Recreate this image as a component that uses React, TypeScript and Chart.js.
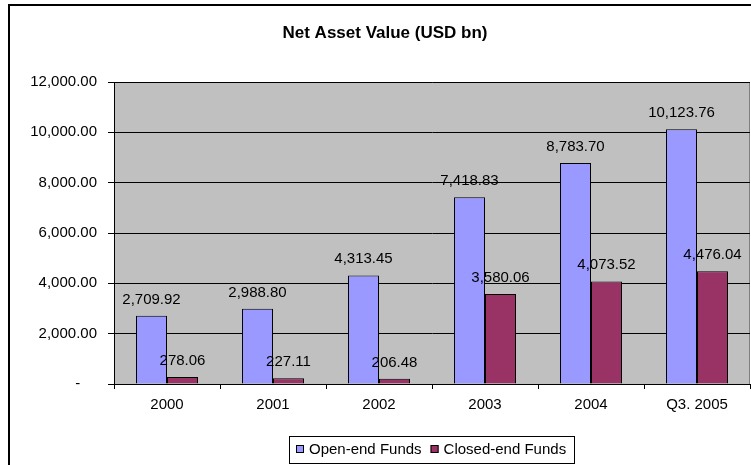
import React, { useEffect, useRef } from "react";
import { Chart, registerables } from "chart.js";

Chart.register(...registerables);

const chartTitle = "Net Asset Value (USD bn)";
const categories = ["2000", "2001", "2002", "2003", "2004", "Q3. 2005"];
const openEndFunds = [2709.92, 2988.8, 4313.45, 7418.83, 8783.7, 10123.76];
const closedEndFunds = [278.06, 227.11, 206.48, 3580.06, 4073.52, 4476.04];
const seriesNames = ["Open-end Funds", "Closed-end Funds"];
const seriesColors = ["#9999FF", "#993366"];
const yMin = 0;
const yMax = 12000;
const yStep = 2000;

const FONT = '"Liberation Sans", Arial, Helvetica, sans-serif';

function fmt(v: number): string {
  const fixed = Math.abs(v).toFixed(2);
  const [i, d] = fixed.split(".");
  return (v < 0 ? "-" : "") + i.replace(/\B(?=(\d{3})+(?!\d))/g, ",") + "." + d;
}

const plotBackground = {
  id: "plotBackground",
  beforeDraw(chart: any) {
    const { ctx, chartArea } = chart;
    if (!chartArea) return;
    ctx.save();
    ctx.fillStyle = "#C0C0C0";
    ctx.fillRect(chartArea.left, chartArea.top, chartArea.right - chartArea.left, chartArea.bottom - chartArea.top);
    ctx.strokeStyle = "#808080";
    ctx.lineWidth = 1;
    ctx.strokeRect(
      Math.round(chartArea.left) + 0.5,
      Math.round(chartArea.top) + 0.5,
      Math.round(chartArea.right - chartArea.left) - 1,
      Math.round(chartArea.bottom - chartArea.top)
    );
    ctx.restore();
  },
};

const dataLabels = {
  id: "dataLabels",
  afterDatasetsDraw(chart: any) {
    const { ctx } = chart;
    ctx.save();
    ctx.font = `15px ${FONT}`;
    ctx.fillStyle = "#000";
    ctx.textAlign = "center";
    ctx.textBaseline = "alphabetic";
    chart.data.datasets.forEach((ds: any, di: number) => {
      const meta = chart.getDatasetMeta(di);
      meta.data.forEach((bar: any, i: number) => {
        ctx.fillText(fmt(ds.data[i]), bar.x, bar.y - 12);
      });
    });
    ctx.restore();
  },
};

const titleAndLegend = {
  id: "titleAndLegend",
  afterDraw(chart: any) {
    const { ctx, chartArea } = chart;
    ctx.save();
    // title
    ctx.font = `bold 17px ${FONT}`;
    ctx.fillStyle = "#000";
    ctx.textAlign = "center";
    ctx.textBaseline = "alphabetic";
    ctx.fillText(chartTitle, 385, 38);

    // legend
    ctx.font = `15px ${FONT}`;
    const marker = 8;
    const markerGap = 5;
    const itemGap = 9;
    const padL = 7;
    const padR = 8;
    const widths = seriesNames.map((n) => ctx.measureText(n).width);
    let total = padL + padR;
    widths.forEach((w, i) => {
      total += marker + markerGap + w + (i > 0 ? itemGap : 0);
    });
    const cx = (chartArea.left + chartArea.right) / 2;
    const boxLeft = Math.round(cx - total / 2);
    const boxTop = 436;
    const boxH = 27;
    ctx.strokeStyle = "#000";
    ctx.lineWidth = 1;
    ctx.fillStyle = "#FFFFFF";
    ctx.fillRect(boxLeft, boxTop, Math.round(total), boxH);
    ctx.strokeRect(boxLeft + 0.5, boxTop + 0.5, Math.round(total), boxH);
    let x = boxLeft + padL;
    ctx.textAlign = "left";
    seriesNames.forEach((n, i) => {
      if (i > 0) x += itemGap;
      ctx.fillStyle = seriesColors[i];
      ctx.fillRect(x, 445, marker, marker);
      ctx.strokeStyle = "#000";
      ctx.strokeRect(x + 0.5, 445.5, marker - 1, marker - 1);
      x += marker + markerGap;
      ctx.fillStyle = "#000";
      ctx.fillText(n, x, 454);
      x += widths[i];
    });
    ctx.restore();
  },
};

export default function App() {
  const canvasRef = useRef<HTMLCanvasElement | null>(null);

  useEffect(() => {
    const canvas = canvasRef.current;
    if (!canvas) return;
    const chart = new Chart(canvas, {
      type: "bar",
      data: {
        labels: categories,
        datasets: [
          {
            label: seriesNames[0],
            data: openEndFunds,
            backgroundColor: seriesColors[0],
            borderColor: "#000",
            borderWidth: 1,
            categoryPercentage: 0.585,
            barPercentage: 1,
          },
          {
            label: seriesNames[1],
            data: closedEndFunds,
            backgroundColor: seriesColors[1],
            borderColor: "#000",
            borderWidth: 1,
            categoryPercentage: 0.585,
            barPercentage: 1,
          },
        ],
      },
      options: {
        responsive: false,
        animation: false,
        devicePixelRatio: 1,
        layout: { padding: { left: 0, right: 1, top: 82, bottom: 0 } },
        plugins: {
          legend: { display: false },
          title: { display: false },
          tooltip: { enabled: false },
        },
        scales: {
          x: {
            afterFit: (scale: any) => {
              scale.height = 81;
            },
            grid: {
              drawOnChartArea: false,
              drawTicks: true,
              tickLength: 5,
              color: "#000",
              offset: true,
            },
            border: { color: "#000", width: 1 },
            ticks: {
              color: "#000",
              font: { family: FONT, size: 15 },
              padding: 7,
              maxRotation: 0,
              autoSkip: false,
            },
          },
          y: {
            min: yMin,
            max: yMax,
            afterFit: (scale: any) => {
              scale.width = 114;
            },
            grid: { color: "#000", tickLength: 6, lineWidth: 1 },
            border: { color: "#000", width: 1 },
            ticks: {
              stepSize: yStep,
              color: "#000",
              padding: 11,
              font: { family: FONT, size: 15 },
              callback: (v: any) => (Number(v) === 0 ? "-    " : fmt(Number(v))),
            },
          },
        },
      },
      plugins: [plotBackground, dataLabels, titleAndLegend],
    });
    return () => chart.destroy();
  }, []);

  return (
    <div
      style={{
        position: "fixed",
        left: 0,
        top: 0,
        width: 751,
        height: 465,
        overflow: "hidden",
        background: "#FFFFFF",
      }}
    >
      <canvas
        ref={canvasRef}
        width={751}
        height={465}
        style={{ position: "absolute", left: 0, top: 0, width: 751, height: 465 }}
      />
      <div
        style={{
          position: "absolute",
          left: 8,
          top: 4,
          width: 780,
          height: 500,
          border: "2px solid #000",
          boxSizing: "border-box",
          pointerEvents: "none",
        }}
      />
    </div>
  );
}
